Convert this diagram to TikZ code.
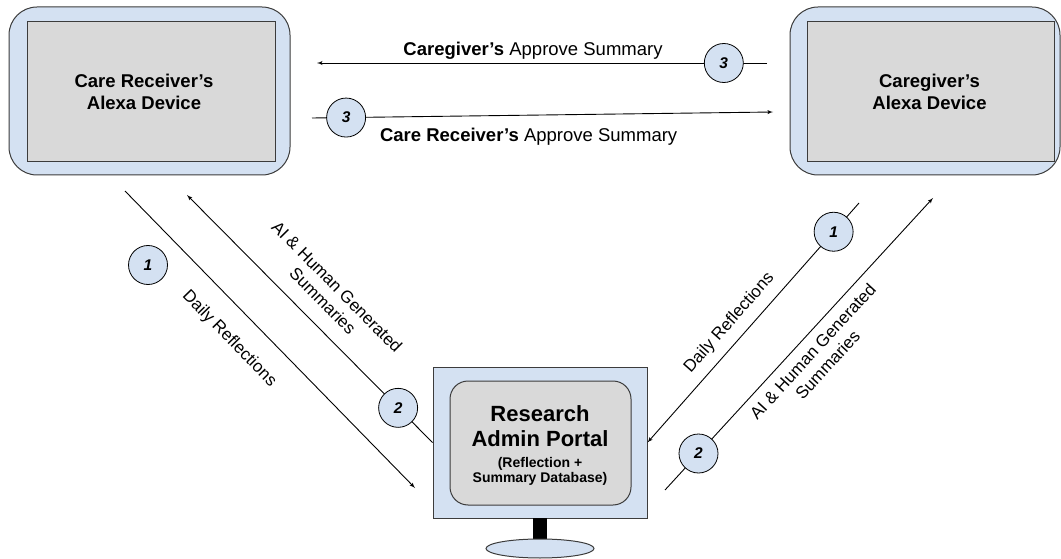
\documentclass[tikz,border=0pt]{standalone}
\usepackage{fontspec}
\setmainfont{Liberation Sans}
\usetikzlibrary{shapes, arrows, positioning}
\usepackage{xcolor}
\definecolor{paleblue}{RGB}{212,225,242}
\definecolor{screengray}{RGB}{217,217,217}
\definecolor{edgegray}{RGB}{60,60,60}
\tikzstyle{device} = [rectangle, draw=edgegray, fill=paleblue, line width=1pt, rounded corners=28pt]
\tikzstyle{screen} = [rectangle, draw=edgegray, fill=screengray, line width=1pt]
\tikzstyle{devicetext} = [align=center, font=\bfseries\fontsize{18.5}{22}\selectfont]
\tikzstyle{stepnum} = [circle, draw=black, fill=paleblue, minimum size=39pt, inner sep=0pt,
    line width=0.8pt, font=\bfseries\itshape\fontsize{15.5}{15.5}\selectfont]
\tikzstyle{line} = [draw, line width=0.9pt, -latex']
\tikzstyle{flowlabel} = [font=\fontsize{17}{20}\selectfont, align=center]
\tikzstyle{toplabel} = [font=\fontsize{18.5}{22}\selectfont]

\begin{document}
\begin{tikzpicture}[x=1pt, y=-1pt]
        \useasboundingbox (0,0) rectangle (1061,559);

        % Nodes
        \node [device, minimum width=281pt, minimum height=168pt] (crdevice) at (149.5,91) {};
        \node [screen, minimum width=248pt, minimum height=140pt] (crscreen) at (151,92) {};
        \node [devicetext, xshift=-7pt] (crtext) at (crscreen) {Care Receiver’s\\Alexa Device};
        \node [device, minimum width=270pt, minimum height=168pt] (cgdevice) at (925,91) {};
        \node [screen, minimum width=247pt, minimum height=140pt] (cgscreen) at (930.5,92) {};
        \node [devicetext, xshift=-1pt] (cgtext) at (cgscreen) {Caregiver’s\\Alexa Device};

        \node [device, sharp corners, minimum width=214pt, minimum height=151pt] (monitor) at (540,442.5) {};
        \node [screen, rounded corners=18pt, minimum width=181pt, minimum height=124pt] (portal) at (540.5,443) {};
        \node [font=\bfseries\fontsize{22}{25}\selectfont, align=center] (portaltitle) at (540,426.5) {Research\\Admin Portal};
        \node [font=\bfseries\fontsize{14}{15}\selectfont, align=center] (portalnote) at (540,471) {(Reflection +\\Summary Database)};
        \node [rectangle, fill=black, minimum width=14pt, minimum height=21pt, inner sep=0pt] (stand) at (540,528.5) {};
        \node [ellipse, draw=edgegray, fill=paleblue, line width=1pt, minimum width=108pt, minimum height=19pt, inner sep=0pt] (base) at (540,548.5) {};

        \node [stepnum] (crstepone) at (148,265) {1};

        % Ends
        \coordinate (topR) at (767,63);
        \coordinate (topL) at (317,63);
        \coordinate (midL) at (312,118);
        \coordinate (midR) at (773,112);
        \coordinate (crdaily) at (125,191);
        \coordinate (crdailyend) at (415,488);
        \coordinate (crsumend) at (187,195);
        \coordinate (cgdaily) at (859,203);
        \coordinate (cgsum) at (665,490);
        \coordinate (cgsumend) at (933,198);

        % Lines
        \path [line] (topR) -- node [stepnum, pos=0.096] {3}
            node [toplabel, pos=0.52, above] {\textbf{Caregiver’s} Approve Summary} (topL);
        \path [line] (midL) -- node [stepnum, pos=0.074] {3}
            node [toplabel, pos=0.47, below=9pt] {\textbf{Care Receiver’s} Approve Summary} (midR);
        \path [line] (crdaily) -- node [flowlabel, sloped, pos=0.43, below=17pt] {Daily Reflections} (crdailyend);
        \path [line] (monitor.west) -- node [stepnum, pos=0.14] {2}
            node [flowlabel, sloped, pos=0.51, above=12pt] {AI \& Human Generated\\Summaries} (crsumend);
        \path [line] (cgdaily) -- node [stepnum, pos=0.12] {1}
            node [flowlabel, sloped, pos=0.55, above=6pt] {Daily Reflections} (monitor.east);
        \path [line] (cgsum) -- node [stepnum, pos=0.125] {2}
            node [flowlabel, sloped, pos=0.51, below=5pt] {AI \& Human Generated\\Summaries} (cgsumend);
\end{tikzpicture}
\end{document}
